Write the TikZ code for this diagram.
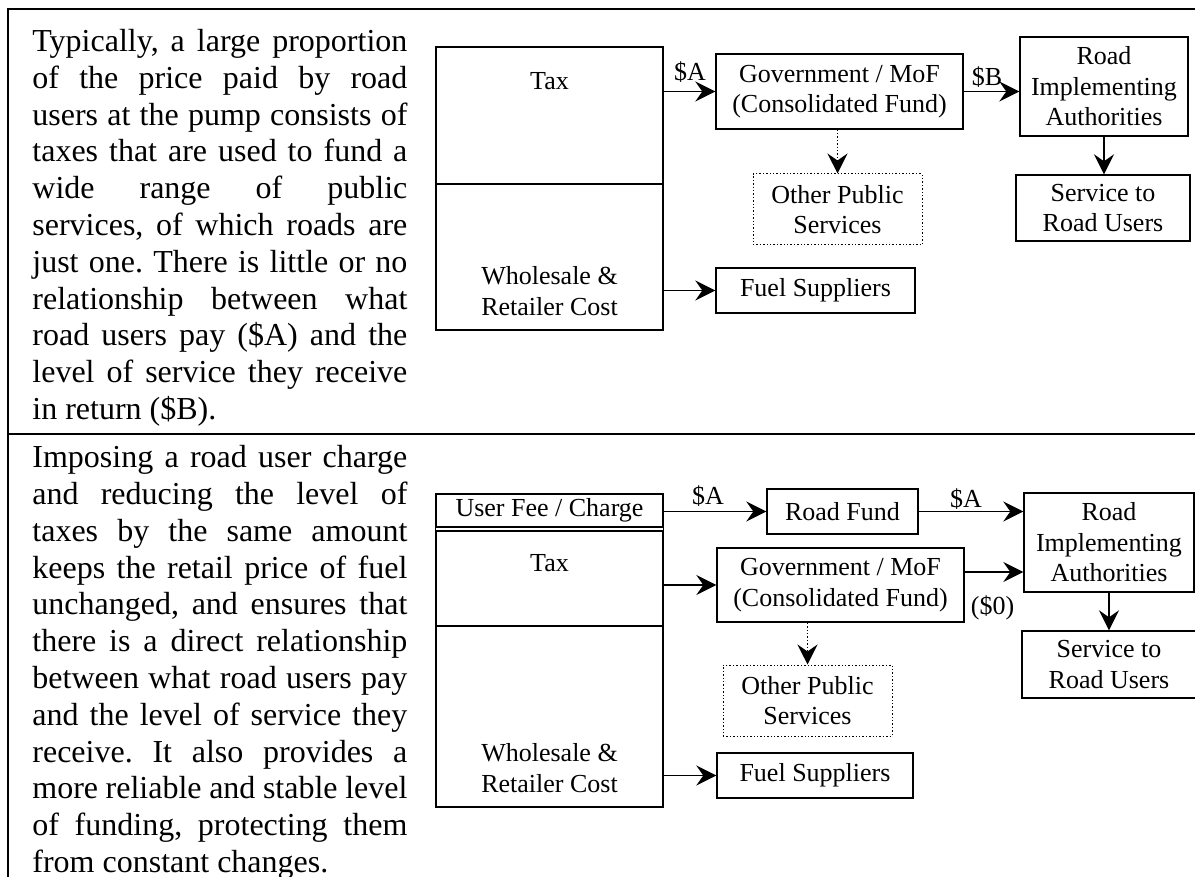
\documentclass[tikz,border=0pt]{standalone}
\usepackage{fontspec}
\setmainfont{Liberation Serif}
\usetikzlibrary{positioning}
\usetikzlibrary{arrows.meta}
\usetikzlibrary{calc}

\tikzset{
	blk/.style={draw, line width=0.7pt, align=center, inner sep=0pt, font=\fontsize{13}{15.2}\selectfont},
	dotblk/.style={blk, densely dotted, line width=0.5pt},
	txt/.style={align=center, inner sep=0pt, font=\fontsize{13}{15.2}\selectfont},
	para/.style={text width=187.5pt, align=justify, inner sep=0pt, anchor=north west, font=\fontsize{16}{18.4}\selectfont\frenchspacing},
	flow/.style={-{Stealth[length=10pt,width=10pt,inset=3.5pt]}, line width=0.7pt},
	dotflow/.style={flow, densely dotted, line width=0.5pt},
}

\begin{document}
\begin{tikzpicture}[x=0.5pt, y=-0.5pt]
	\useasboundingbox (0,0) rectangle (1195,877);

	% Frame of the table
	\draw[line width=1.4pt] (1195,9) -- (8,9) -- (8,877);
	\draw[line width=1.4pt] (8,434) -- (1195,434);

	% Text of the two rows
	\node[para] (note1) at (32,29) {Typically, a large proportion\linebreak
		of the price paid by road\linebreak
		users at the pump consists of\linebreak
		taxes that are used to fund a\linebreak
		wide range of public\linebreak
		services, of which roads are\linebreak
		just one. There is little or no\linebreak
		relationship between what\linebreak
		road users pay (\$A) and the\linebreak
		level of service they receive\linebreak
		in return (\$B).};
	\node[para] (note2) at (32,445) {Imposing a road user charge\linebreak
		and reducing the level of\linebreak
		taxes by the same amount\linebreak
		keeps the retail price of fuel\linebreak
		unchanged, and ensures that\linebreak
		there is a direct relationship\linebreak
		between what road users pay\linebreak
		and the level of service they\linebreak
		receive. It also provides a\linebreak
		more reliable and stable level\linebreak
		of funding, protecting them\linebreak
		from constant changes.};

	% Upper row: price at the pump
	\node[blk, minimum width=113.5pt, minimum height=68.5pt] (tax1) at (549.5,115.5) {};
	\node[blk, minimum width=113.5pt, minimum height=73pt] (whole1) at (549.5,257) {};
	\node[txt] (taxlbl1) at (549.5,81) {Tax};
	\node[txt, anchor=south] (wholelbl1) at (549.5,316) {Wholesale \&\\Retailer Cost};

	\node[blk, minimum width=123.5pt, minimum height=37.5pt] (gov1) at (839.5,91.5) {Government / MoF\\(Consolidated Fund)};
	\node[blk, minimum width=84pt, minimum height=49.5pt] (road1) at (1104,86.5) {Road\\Implementing\\Authorities};
	\node[blk, minimum width=87pt, minimum height=33pt] (serv1) at (1103,208) {Service to\\Road Users};
	\node[dotblk, minimum width=84.5pt, minimum height=35.5pt] (other1) at (837.5,209.5) {Other Public\\Services};
	\node[blk, minimum width=99.5pt, minimum height=22.5pt] (fuel1) at (815.5,290.5) {Fuel Suppliers};

	\node[txt] (pa1) at (690,72) {\$A};
	\node[txt] (pb1) at (987,77) {\$B};

	\draw[flow] (tax1.east |- gov1.west) -- (gov1.west);
	\draw[flow] (gov1.east) -- (gov1.east -| road1.west);
	\draw[flow] (road1.south) -- (road1.south |- serv1.north);
	\draw[dotflow] (other1.north |- gov1.south) -- (other1.north);
	\draw[flow] (whole1.east |- fuel1.west) -- (fuel1.west);

	% Lower row: with a road user charge
	\node[blk, minimum width=113.5pt, minimum height=16.5pt] (fee2) at (549.5,510.5) {User Fee / Charge};
	\node[blk, minimum width=113.5pt, minimum height=47.5pt] (tax2) at (549.5,578.5) {};
	\node[blk, minimum width=113.5pt, minimum height=90.5pt] (whole2) at (549.5,716.5) {};
	\draw[line width=0.7pt] (fee2.south west) -- (tax2.north west);
	\draw[line width=0.7pt] (fee2.south east) -- (tax2.north east);
	\node[txt] (taxlbl2) at (549.5,563) {Tax};
	\node[txt, anchor=south] (wholelbl2) at (549.5,793) {Wholesale \&\\Retailer Cost};

	\node[blk, minimum width=75.5pt, minimum height=22.5pt] (fund2) at (842.5,511.5) {Road Fund};
	\node[blk, minimum width=123.5pt, minimum height=37pt] (gov2) at (840.5,585) {Government / MoF\\(Consolidated Fund)};
	\node[blk, minimum width=85pt, minimum height=49.5pt] (road2) at (1109,542.5) {Road\\Implementing\\Authorities};
	\node[blk, minimum width=87pt, minimum height=33.5pt] (serv2) at (1109,664.5) {Service to\\Road Users};
	\node[dotblk, minimum width=84.5pt, minimum height=35.5pt] (other2) at (807.5,700.5) {Other Public\\Services};
	\node[blk, minimum width=98pt, minimum height=22.5pt] (fuel2) at (815,775.5) {Fuel Suppliers};

	\node[txt] (pa2) at (708,496) {\$A};
	\node[txt] (pa3) at (966,499) {\$A};
	\node[txt] (pz2) at (992.5,608) {(\$0)};

	\draw[flow] (fee2.east |- fund2.west) -- (fund2.west);
	\draw[flow] (fund2.east) -- (fund2.east -| road2.west);
	\draw[flow] (tax2.east |- gov2.west) -- (gov2.west);
	\draw[flow] ([yshift=6.5pt]gov2.east) -- ([yshift=6.5pt]gov2.east -| road2.west);
	\draw[flow] (road2.south) -- (road2.south |- serv2.north);
	\draw[dotflow] (other2.north |- gov2.south) -- (other2.north);
	\draw[flow] (whole2.east |- fuel2.west) -- (fuel2.west);
\end{tikzpicture}
\end{document}
